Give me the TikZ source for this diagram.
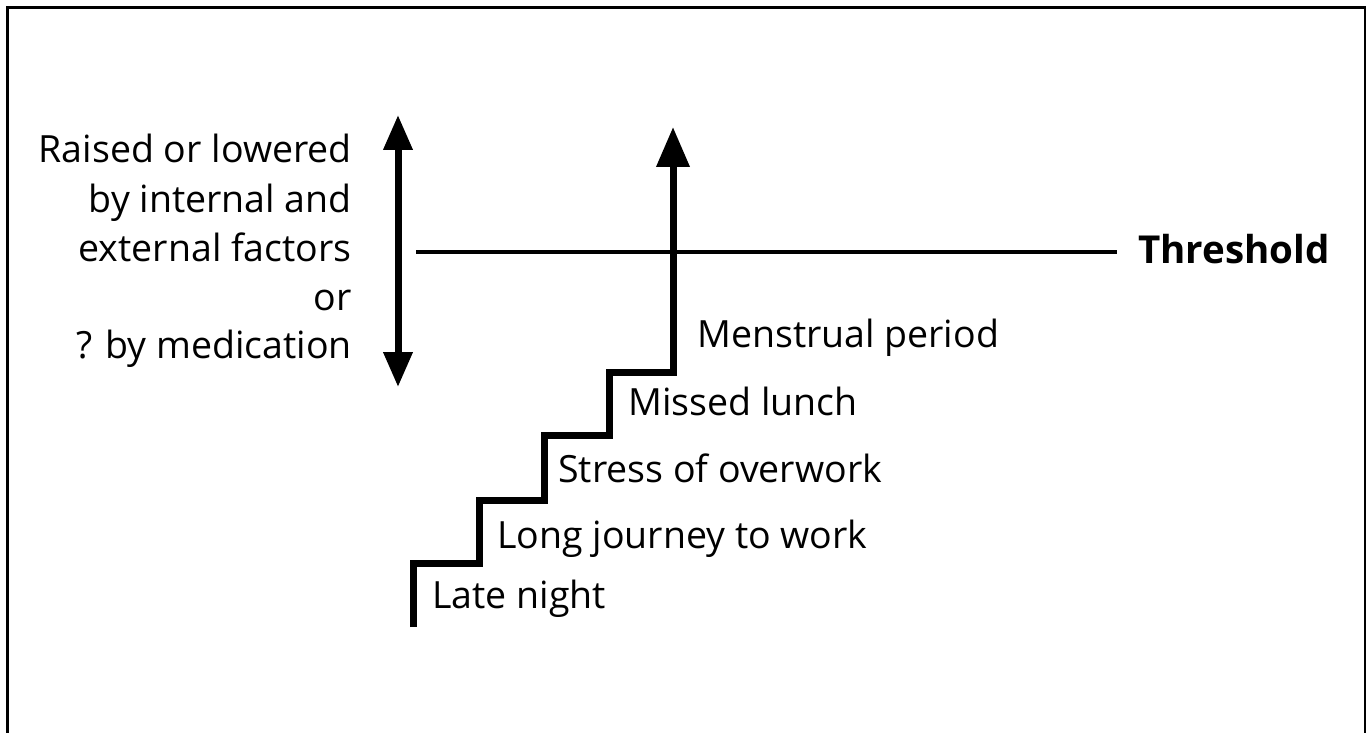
\documentclass[tikz,border=0pt]{standalone}
\usepackage{fontspec}
\setmainfont{Open Sans}
\usetikzlibrary{arrows.meta}
\tikzset{
  lbl/.style={inner sep=0pt, font=\fontsize{37.5}{45}\selectfont},
  boldlbl/.style={inner sep=0pt, font=\fontsize{38.5}{45}\selectfont\bfseries},
  frame/.style={line width=2.5pt},
  thick arrow/.style={line width=7pt},
  thresh/.style={line width=4pt},
}
\begin{document}
\begin{tikzpicture}[x=1pt,y=-1pt]
\useasboundingbox (0,0) rectangle (1371,733);
\draw[frame] (7.5,740) -- (7.5,7.5) -- (1365,7.5) -- (1365,740);
% left text
\node[lbl, anchor=base east] (l1) at (352,163) {Raised or lowered};
\node[lbl, anchor=base east] (l2) at (352,212) {by internal and};
\node[lbl, anchor=base east] (l3) at (352,261) {external factors};
\node[lbl, anchor=base east] (l4) at (352,310) {or};
\node[lbl, anchor=base east] (l5) at (352,358) {? by medication};
% double arrow
\coordinate (dtop) at (398,115);
\coordinate (dbot) at (398,387);
\draw[thick arrow, {Triangle[width=28pt,length=35pt]}-{Triangle[width=28pt,length=35pt]}] (dbot) -- (dtop);
% threshold
\coordinate (t0) at (416,252);
\node[boldlbl, anchor=base west] (th) at (1138,263) {Threshold};
\draw[thresh] (t0) -- (1117,252);
% staircase
\coordinate (s0) at (413,627);
\coordinate (s1) at (413,563);
\coordinate (s2) at (479,563);
\coordinate (s3) at (479,500);
\coordinate (s4) at (544,500);
\coordinate (s5) at (544,435);
\coordinate (s6) at (609,435);
\coordinate (s7) at (609,372);
\coordinate (s8) at (673,372);
\coordinate (s9) at (673,127);
\draw[thick arrow, miter limit=10, -{Triangle[width=32pt,length=40pt]}] (s0) -- (s1) -- (s2) -- (s3) -- (s4) -- (s5) -- (s6) -- (s7) -- (s8) -- (s9);
% step labels
\node[lbl, anchor=base west] (a1) at (432,608) {Late night};
\node[lbl, anchor=base west] (a2) at (497,548) {Long journey to work};
\node[lbl, anchor=base west] (a3) at (558,482) {Stress of overwork};
\node[lbl, anchor=base west] (a4) at (628,415) {Missed lunch};
\node[lbl, anchor=base west] (a5) at (697,347) {Menstrual period};
\end{tikzpicture}
\end{document}
